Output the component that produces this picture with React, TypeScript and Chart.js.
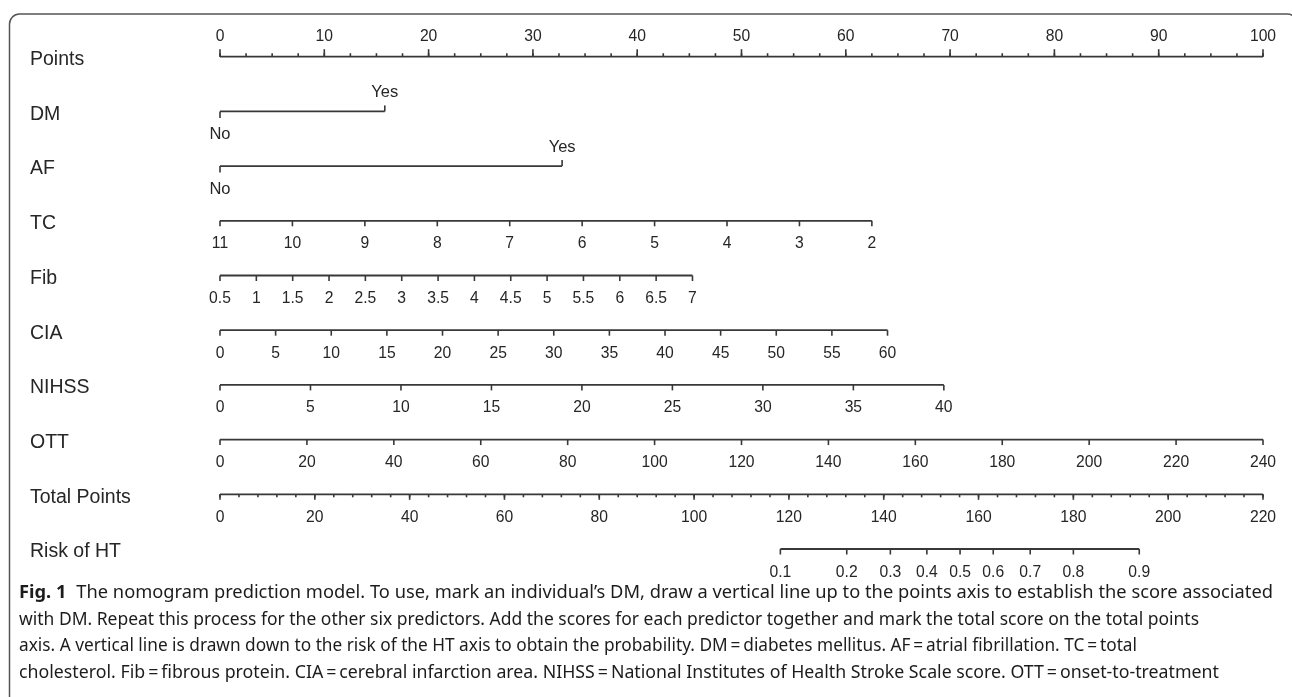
import React, { useEffect, useRef } from "react";
import { Chart, registerables } from "chart.js";

Chart.register(...registerables);

// ---- data ----
const rowNames = ["Points", "DM", "AF", "TC", "Fib", "CIA", "NIHSS", "OTT", "Total Points", "Risk of HT"];

const pointsTicks = [0, 10, 20, 30, 40, 50, 60, 70, 80, 90, 100];
const pointsMinorStep = 2.5;

const dmLabels = ["No", "Yes"];
const dmPoints = [0, 15.8];

const afLabels = ["No", "Yes"];
const afPoints = [0, 32.8];

const tcTicks = [11, 10, 9, 8, 7, 6, 5, 4, 3, 2];
const tcPointsRange = [0, 62.5];

const fibTicks = [0.5, 1, 1.5, 2, 2.5, 3, 3.5, 4, 4.5, 5, 5.5, 6, 6.5, 7];
const fibPointsRange = [0, 45.3];

const ciaTicks = [0, 5, 10, 15, 20, 25, 30, 35, 40, 45, 50, 55, 60];
const ciaPointsRange = [0, 64.0];

const nihssTicks = [0, 5, 10, 15, 20, 25, 30, 35, 40];
const nihssPointsRange = [0, 69.4];

const ottTicks = [0, 20, 40, 60, 80, 100, 120, 140, 160, 180, 200, 220, 240];
const ottPointsRange = [0, 100];

const totalTicks = [0, 20, 40, 60, 80, 100, 120, 140, 160, 180, 200, 220];
const totalMinorStep = 4;
const totalPointsMax = 220;

const riskLabels = ["0.1", "0.2", "0.3", "0.4", "0.5", "0.6", "0.7", "0.8", "0.9"];
const riskTotalPoints = [118.2, 132.2, 141.4, 149.1, 156.1, 163.1, 170.9, 180.0, 193.9];

const captionBold = "Fig. 1";
const captionLines = [
  "The nomogram prediction model. To use, mark an individual\u2019s DM, draw a vertical line up to the points axis to establish the score associated",
  "with DM. Repeat this process for the other six predictors. Add the scores for each predictor together and mark the total score on the total points",
  "axis. A vertical line is drawn down to the risk of the HT axis to obtain the probability. DM\u2009=\u2009diabetes mellitus. AF\u2009=\u2009atrial fibrillation. TC\u2009=\u2009total",
  "cholesterol. Fib\u2009=\u2009fibrous protein. CIA\u2009=\u2009cerebral infarction area. NIHSS\u2009=\u2009National Institutes of Health Stroke Scale score. OTT\u2009=\u2009onset-to-treatment",
];

// ---- layout constants ----
const CAPTION_X = 19;
const CAPTION_ENDS = [1273, 1199, 1137, 1219];
const CAPTION_Y = [593, 619.5, 646, 672.5];

// ---- helpers ----
type Axis = { row: number; ticks: number[]; range: number[] };
const continuousAxes: Axis[] = [
  { row: 3, ticks: tcTicks, range: tcPointsRange },
  { row: 4, ticks: fibTicks, range: fibPointsRange },
  { row: 5, ticks: ciaTicks, range: ciaPointsRange },
  { row: 6, ticks: nihssTicks, range: nihssPointsRange },
  { row: 7, ticks: ottTicks, range: ottPointsRange },
];
const toPts = (a: Axis, v: number) => {
  const t0 = a.ticks[0];
  const t1 = a.ticks[a.ticks.length - 1];
  return a.range[0] + ((v - t0) / (t1 - t0)) * (a.range[1] - a.range[0]);
};
const totalToPts = (tp: number) => (tp * 100) / totalPointsMax;

const LINE = "#383838";
const TEXT = "#262626";
const FONT = "'Liberation Sans', Arial, sans-serif";

function seg(row: number, a: number, b: number) {
  return {
    data: [
      { x: a, y: row },
      { x: b, y: row },
    ],
    showLine: true,
    borderColor: LINE,
    borderWidth: 1.8,
    pointRadius: 0,
    clip: false as any,
  };
}

const nomogramPlugin = {
  id: "nomogram",
  afterDatasetsDraw(chart: any) {
    const ctx: CanvasRenderingContext2D = chart.ctx;
    const xs = chart.scales.x;
    const ys = chart.scales.y;
    const px = (p: number) => xs.getPixelForValue(p);
    const py = (r: number) => ys.getPixelForValue(r);

    ctx.save();
    // frame
    ctx.strokeStyle = "#555";
    ctx.lineWidth = 1.5;
    ctx.beginPath();
    ctx.moveTo(9.5, 700);
    ctx.lineTo(9.5, 24);
    ctx.arcTo(9.5, 14, 19.5, 14, 10);
    ctx.lineTo(1287, 14);
    ctx.arcTo(1299, 14, 1299, 26, 12);
    ctx.lineTo(1299, 700);
    ctx.stroke();

    ctx.strokeStyle = LINE;
    ctx.lineWidth = 1.6;
    const tick = (x: number, y: number, len: number) => {
      ctx.beginPath();
      ctx.moveTo(x, y);
      ctx.lineTo(x, y + len);
      ctx.stroke();
    };
    const label = (s: string, x: number, y: number, size = 16.5, sx = 0.95) => {
      ctx.save();
      ctx.translate(x, y);
      ctx.scale(sx, 1);
      ctx.font = `${size}px ${FONT}`;
      ctx.fillStyle = TEXT;
      ctx.textAlign = "center";
      ctx.textBaseline = "middle";
      ctx.fillText(s, 0, 0);
      ctx.restore();
    };

    // row names
    ctx.font = `19.5px ${FONT}`;
    ctx.fillStyle = TEXT;
    ctx.textAlign = "left";
    ctx.textBaseline = "middle";
    rowNames.forEach((n, i) => ctx.fillText(n, 30, py(i) + 3));

    // Points axis (ticks upward)
    const y0 = py(0);
    for (let p = 0; p <= 100 + 1e-9; p += pointsMinorStep) tick(px(p), y0, -3.5);
    pointsTicks.forEach((v) => {
      tick(px(v), y0, -7.5);
      label(String(v), px(v), y0 - 20);
    });

    // DM / AF
    const cat = (row: number, labs: string[], pts: number[]) => {
      const y = py(row);
      tick(px(pts[0]), y, 6.5);
      label(labs[0], px(pts[0]), y + 23.5, 16.5, 1);
      tick(px(pts[1]), y, -6);
      label(labs[1], px(pts[1]), y - 19, 16.5, 1);
    };
    cat(1, dmLabels, dmPoints);
    cat(2, afLabels, afPoints);

    // continuous axes (ticks downward)
    continuousAxes.forEach((a) => {
      const y = py(a.row);
      a.ticks.forEach((v) => {
        const x = px(toPts(a, v));
        tick(x, y, 5.5);
        label(String(v), x, y + 23);
      });
    });

    // Total points
    const yt = py(8);
    for (let t = 0; t <= totalPointsMax + 1e-9; t += totalMinorStep) tick(px(totalToPts(t)), yt, 3);
    totalTicks.forEach((v) => {
      const x = px(totalToPts(v));
      tick(x, yt, 5.5);
      label(String(v), x, yt + 23.5);
    });

    // Risk
    const yr = py(9);
    riskLabels.forEach((s, i) => {
      const x = px(totalToPts(riskTotalPoints[i]));
      tick(x, yr, 5.5);
      label(s, x, yr + 23);
    });

    // caption
    const capFont = "18.5px 'Noto Sans', 'Open Sans', sans-serif";
    const capBoldFont = "bold 18.5px 'Noto Sans', 'Open Sans', sans-serif";
    ctx.font = capBoldFont;
    const wb = ctx.measureText(captionBold).width;
    const gap = 10;
    ctx.fillStyle = "#1c1c1c";
    ctx.textAlign = "left";
    ctx.textBaseline = "middle";
    captionLines.forEach((line, i) => {
      ctx.font = capFont;
      const w = ctx.measureText(line).width + (i === 0 ? wb + gap : 0);
      const sx = (CAPTION_ENDS[i] - CAPTION_X) / w;
      ctx.save();
      ctx.translate(CAPTION_X, CAPTION_Y[i]);
      ctx.scale(sx, 1);
      let x = 0;
      if (i === 0) {
        ctx.font = capBoldFont;
        ctx.fillText(captionBold, 0, 0);
        x = wb + gap;
      }
      ctx.font = capFont;
      ctx.fillText(line, x, 0);
      ctx.restore();
    });

    ctx.restore();
  },
};

export default function App() {
  const ref = useRef<HTMLCanvasElement | null>(null);
  useEffect(() => {
    if (!ref.current) return;
    const datasets = [
      seg(0, pointsTicks[0], pointsTicks[pointsTicks.length - 1]),
      seg(1, dmPoints[0], dmPoints[1]),
      seg(2, afPoints[0], afPoints[1]),
      ...continuousAxes.map((a) => seg(a.row, toPts(a, a.ticks[0]), toPts(a, a.ticks[a.ticks.length - 1]))),
      seg(8, totalToPts(totalTicks[0]), totalToPts(totalTicks[totalTicks.length - 1])),
      seg(9, totalToPts(riskTotalPoints[0]), totalToPts(riskTotalPoints[riskTotalPoints.length - 1])),
    ];
    const chart = new Chart(ref.current, {
      type: "scatter",
      data: { datasets: datasets as any },
      options: {
        animation: false,
        responsive: false,
        devicePixelRatio: 1,
        layout: { padding: { left: 220, right: 29, top: 56.7, bottom: 148 } },
        plugins: { legend: { display: false }, tooltip: { enabled: false }, title: { display: false } },
        scales: {
          x: { type: "linear", min: 0, max: 100, display: false },
          y: { type: "linear", min: 0, max: 9, reverse: true, display: false },
        },
        events: [],
      },
      plugins: [nomogramPlugin],
    });
    return () => chart.destroy();
  }, []);
  return (
    <div style={{ position: "fixed", left: 0, top: 0, width: 1292, height: 697, background: "#fff" }}>
      <canvas ref={ref} width={1292} height={697} style={{ width: 1292, height: 697, display: "block" }} />
    </div>
  );
}
